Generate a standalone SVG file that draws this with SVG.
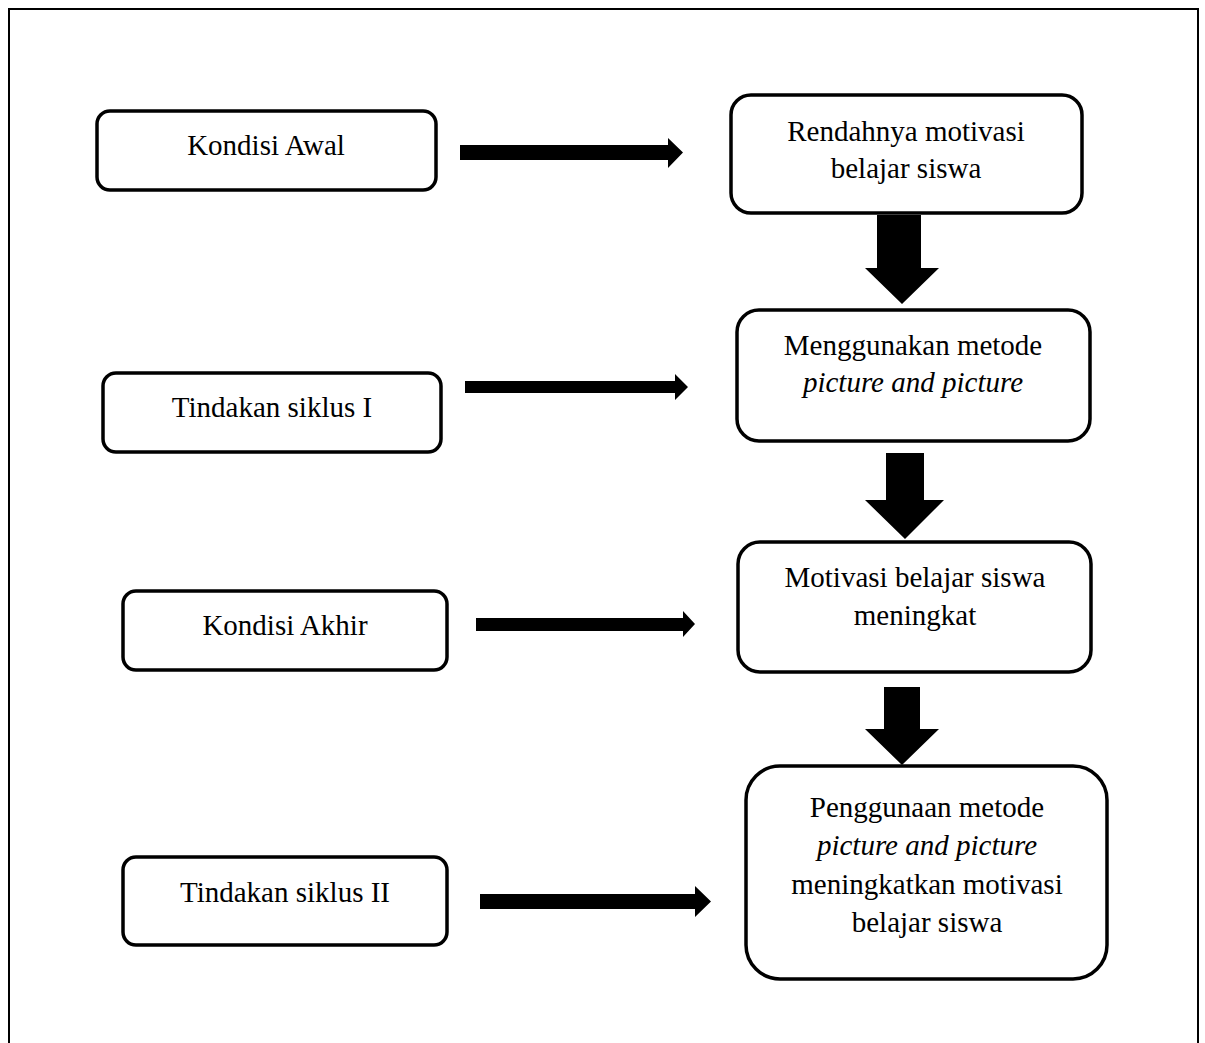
<svg xmlns="http://www.w3.org/2000/svg" width="1205" height="1043" viewBox="0 0 1205 1043">
<style>
.box{fill:#fff;stroke:#000;stroke-width:3.5}
.t{font-family:"Liberation Serif","Times New Roman",serif;font-size:29px;fill:#000;text-anchor:middle}
.i{font-style:italic}
.arr{fill:#000}
</style>
<rect x="0" y="0" width="1205" height="1043" fill="#fff"/>
<rect x="9" y="9" width="1189" height="1060" fill="none" stroke="#000" stroke-width="2"/>
<g id="n-kondisi-awal"><rect class="box" x="97" y="111" width="339" height="79" rx="13"/><text class="t" x="266" y="155">Kondisi Awal</text></g>
<g id="n-tindakan-1"><rect class="box" x="103" y="373" width="338" height="79" rx="13"/><text class="t" x="272" y="417">Tindakan siklus I</text></g>
<g id="n-kondisi-akhir"><rect class="box" x="123" y="591" width="324" height="79" rx="13"/><text class="t" x="285" y="635">Kondisi Akhir</text></g>
<g id="n-tindakan-2"><rect class="box" x="123" y="857" width="324" height="88" rx="13"/><text class="t" x="285" y="902">Tindakan siklus II</text></g>
<g id="n-rendah"><rect class="box" x="731" y="95" width="351" height="118" rx="20"/><text class="t" x="906" y="141">Rendahnya motivasi</text><text class="t" x="906" y="178">belajar siswa</text></g>
<g id="n-menggunakan"><rect class="box" x="737" y="310" width="353" height="131" rx="22"/><text class="t" x="913" y="355">Menggunakan metode</text><text class="t i" x="913" y="392">picture and picture</text></g>
<g id="n-motivasi"><rect class="box" x="738" y="542" width="353" height="130" rx="22"/><text class="t" x="915" y="587">Motivasi belajar siswa</text><text class="t" x="915" y="625">meningkat</text></g>
<g id="n-penggunaan"><rect class="box" x="746" y="766" width="361" height="213" rx="34"/><text class="t" x="927" y="817">Penggunaan metode</text><text class="t i" x="927" y="855">picture and picture</text><text class="t" x="927" y="894">meningkatkan motivasi</text><text class="t" x="927" y="932">belajar siswa</text></g>
<g id="connectors">
<polygon class="arr" points="460,145 668,145 668,138 683,152.5 668,168 668,160 460,160"/>
<polygon class="arr" points="465,381 675,381 675,374 688,387 675,400 675,393 465,393"/>
<polygon class="arr" points="476,618 683,618 683,611 695,624 683,637 683,631 476,631"/>
<polygon class="arr" points="480,894 695,894 695,886 711,901.5 695,917 695,909 480,909"/>
<polygon class="arr" points="877,215 921,215 921,268 939,268 902,304 865,268 877,268"/>
<polygon class="arr" points="886,453 924,453 924,500 944,500 905,539 865,500 886,500"/>
<polygon class="arr" points="884,687 920,687 920,729 939,729 902,765 865,729 884,729"/>
</g>
</svg>
